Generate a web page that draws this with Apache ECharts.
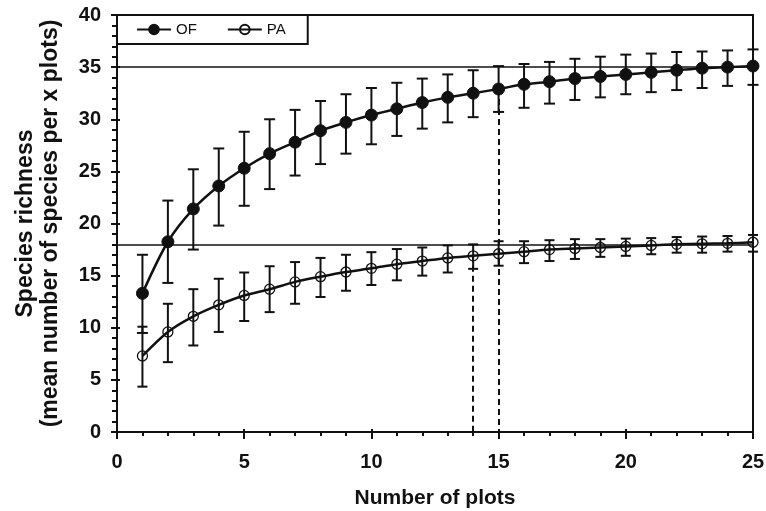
<!DOCTYPE html>
<html>
<head>
    <meta charset="UTF-8">
    <title>Species richness</title>
    <script src="https://cdn.jsdelivr.net/npm/echarts@6/dist/echarts.min.js"></script>
    <style>
        html, body { margin: 0; padding: 0; background: #fff; }
        #container { width: 766px; height: 511px; }
    </style>
</head>
<body>
<div id="container"></div>
<script>
    // number of plots
    var plots = [1, 2, 3, 4, 5, 6, 7, 8, 9, 10, 11, 12, 13, 14, 15, 16, 17, 18, 19, 20, 21, 22, 23, 24, 25];

    // OF (filled circles)
    var ofMean = [13.3, 18.25, 21.4, 23.6, 25.3, 26.7, 27.8, 28.9, 29.7, 30.4, 31.0, 31.6, 32.1, 32.5, 32.9, 33.35, 33.6, 33.9, 34.1, 34.3, 34.5, 34.7, 34.9, 35.0, 35.1];
    var ofLow  = [9.5, 14.3, 17.5, 19.8, 21.7, 23.3, 24.6, 25.7, 26.7, 27.6, 28.4, 29.1, 29.7, 30.2, 30.7, 31.1, 31.5, 31.85, 32.1, 32.4, 32.6, 32.8, 33.0, 33.2, 33.3];
    var ofHigh = [17.0, 22.2, 25.2, 27.2, 28.8, 30.0, 30.9, 31.75, 32.4, 33.0, 33.5, 33.9, 34.3, 34.7, 35.1, 35.3, 35.5, 35.8, 36.0, 36.2, 36.3, 36.45, 36.5, 36.6, 36.7];

    // PA (open circles)
    var paMean = [7.3, 9.6, 11.1, 12.2, 13.1, 13.7, 14.4, 14.9, 15.35, 15.7, 16.1, 16.4, 16.7, 16.9, 17.1, 17.3, 17.5, 17.6, 17.7, 17.8, 17.9, 18.0, 18.05, 18.1, 18.2];
    var paLow  = [4.35, 6.7, 8.3, 9.6, 10.65, 11.5, 12.3, 12.95, 13.55, 14.1, 14.55, 15.0, 15.3, 15.65, 15.95, 16.2, 16.4, 16.6, 16.8, 16.9, 17.05, 17.2, 17.2, 17.3, 17.3];
    var paHigh = [10.1, 12.3, 13.7, 14.7, 15.3, 15.9, 16.3, 16.7, 17.0, 17.25, 17.55, 17.7, 17.9, 18.0, 18.3, 18.3, 18.4, 18.5, 18.5, 18.55, 18.6, 18.7, 18.75, 18.8, 18.9];

    // asymptote lines and the plot counts marked with dashes
    var ofAsymptote = 35;
    var paAsymptote = 18;
    var ofMarkIdx = 14;   // 15 plots
    var paMarkIdx = 13;   // 14 plots

    var font = '"Liberation Sans", Arial, sans-serif';

    function pairs(xs, ys) {
        var out = [];
        for (var i = 0; i < xs.length; i++) out.push([xs[i], ys[i]]);
        return out;
    }
    function triples(xs, lo, hi) {
        var out = [];
        for (var i = 0; i < xs.length; i++) out.push([xs[i], lo[i], hi[i]]);
        return out;
    }

    // error bar with caps
    function errorBar(cap) {
        return function (params, api) {
            var x = api.value(0);
            var lo = api.coord([x, api.value(1)]);
            var hi = api.coord([x, api.value(2)]);
            var st = { stroke: '#111', lineWidth: 2 };
            return {
                type: 'group',
                children: [
                    { type: 'line', shape: { x1: lo[0], y1: lo[1], x2: hi[0], y2: hi[1] }, style: st },
                    { type: 'line', shape: { x1: lo[0] - cap, y1: lo[1], x2: lo[0] + cap, y2: lo[1] }, style: st },
                    { type: 'line', shape: { x1: hi[0] - cap, y1: hi[1], x2: hi[0] + cap, y2: hi[1] }, style: st }
                ]
            };
        };
    }

    var chart = echarts.init(document.getElementById('container'), null, { renderer: 'canvas' });

    var option = {
        animation: false,
        textStyle: { fontFamily: font },
        grid: {
            left: 117, right: 13, top: 15, bottom: 79,
            outerBoundsMode: 'none', containLabel: false,
            show: true, borderColor: '#111', borderWidth: 2
        },
        legend: {
            left: 117, top: 15,
            orient: 'horizontal',
            backgroundColor: '#fff',
            borderColor: '#111', borderWidth: 2, borderRadius: 0,
            padding: [7, 22, 7, 19],
            itemWidth: 34, itemHeight: 12, itemGap: 30,
            textStyle: { fontSize: 15, color: '#111', fontFamily: font },
            data: ['OF', 'PA']
        },
        xAxis: [{
            type: 'value', min: 0, max: 25, interval: 5,
            name: 'Number of plots', nameLocation: 'middle', nameGap: 56,
            nameTextStyle: { fontSize: 21, fontWeight: 'bold', color: '#111' },
            axisLine: { lineStyle: { color: '#111', width: 2 } },
            axisTick: { length: 7, lineStyle: { color: '#111', width: 2 } },
            minorTick: { show: true, splitNumber: 5, length: 4, lineStyle: { color: '#111', width: 2 } },
            axisLabel: { fontSize: 20, fontWeight: 'bold', color: '#111', margin: 20 },
            splitLine: { show: false }
        }, {
            type: 'value', min: 0, max: 25, interval: 5, position: 'bottom',
            axisLine: { show: false },
            axisTick: { inside: true, length: 3, lineStyle: { color: '#111', width: 2 } },
            axisLabel: { show: false },
            splitLine: { show: false }
        }],
        yAxis: [{
            type: 'value', min: 0, max: 40, interval: 5,
            name: 'Species richness\n(mean number of species per x plots)',
            nameLocation: 'middle', nameGap: 54, nameRotate: 90,
            nameTextStyle: { fontSize: 23, fontWeight: 'bold', color: '#111', lineHeight: 25, align: 'center' },
            axisLine: { lineStyle: { color: '#111', width: 2 } },
            axisTick: { length: 6, lineStyle: { color: '#111', width: 2 } },
            minorTick: { show: true, splitNumber: 5, length: 5, lineStyle: { color: '#111', width: 2 } },
            axisLabel: { fontSize: 20, fontWeight: 'bold', color: '#111', margin: 16 },
            splitLine: { show: false }
        }, {
            type: 'value', min: 0, max: 40, interval: 5, position: 'left',
            axisLine: { show: false },
            axisTick: { inside: true, length: 3, lineStyle: { color: '#111', width: 2 } },
            axisLabel: { show: false },
            splitLine: { show: false }
        }],
        series: [
            {
                type: 'custom', name: 'OF err', renderItem: errorBar(5.5),
                data: triples(plots, ofLow, ofHigh), z: 2, silent: true,
                encode: { x: 0, y: [1, 2] }
            },
            {
                type: 'custom', name: 'PA err', renderItem: errorBar(5),
                data: triples(plots, paLow, paHigh), z: 2, silent: true,
                encode: { x: 0, y: [1, 2] }
            },
            {
                type: 'line', name: 'OF', data: pairs(plots, ofMean),
                smooth: 0.3, z: 4,
                symbol: 'circle', symbolSize: 12,
                lineStyle: { color: '#111', width: 2.5 },
                itemStyle: { color: '#111', borderColor: '#111', borderWidth: 1 },
                markLine: {
                    silent: true, symbol: 'none', animation: false,
                    label: { show: false },
                    data: [
                        { yAxis: ofAsymptote, lineStyle: { type: 'solid', color: '#111', width: 1.5 } },
                        [
                            { coord: [plots[ofMarkIdx], ofMean[ofMarkIdx]], lineStyle: { type: [6, 4], color: '#111', width: 2 } },
                            { coord: [plots[ofMarkIdx], 0] }
                        ]
                    ]
                }
            },
            {
                type: 'line', name: 'PA', data: pairs(plots, paMean),
                smooth: 0.3, z: 4,
                symbol: 'circle', symbolSize: 10,
                lineStyle: { color: '#111', width: 2.5 },
                itemStyle: { color: 'rgba(255,255,255,0)', borderColor: '#111', borderWidth: 1.3 },
                markLine: {
                    silent: true, symbol: 'none', animation: false,
                    label: { show: false },
                    data: [
                        { yAxis: paAsymptote, lineStyle: { type: 'solid', color: '#111', width: 1.5 } },
                        [
                            { coord: [plots[paMarkIdx], paMean[paMarkIdx]], lineStyle: { type: [6, 4], color: '#111', width: 2 } },
                            { coord: [plots[paMarkIdx], 0] }
                        ]
                    ]
                }
            }
        ]
    };
    chart.setOption(option);
</script>
</body>
</html>
